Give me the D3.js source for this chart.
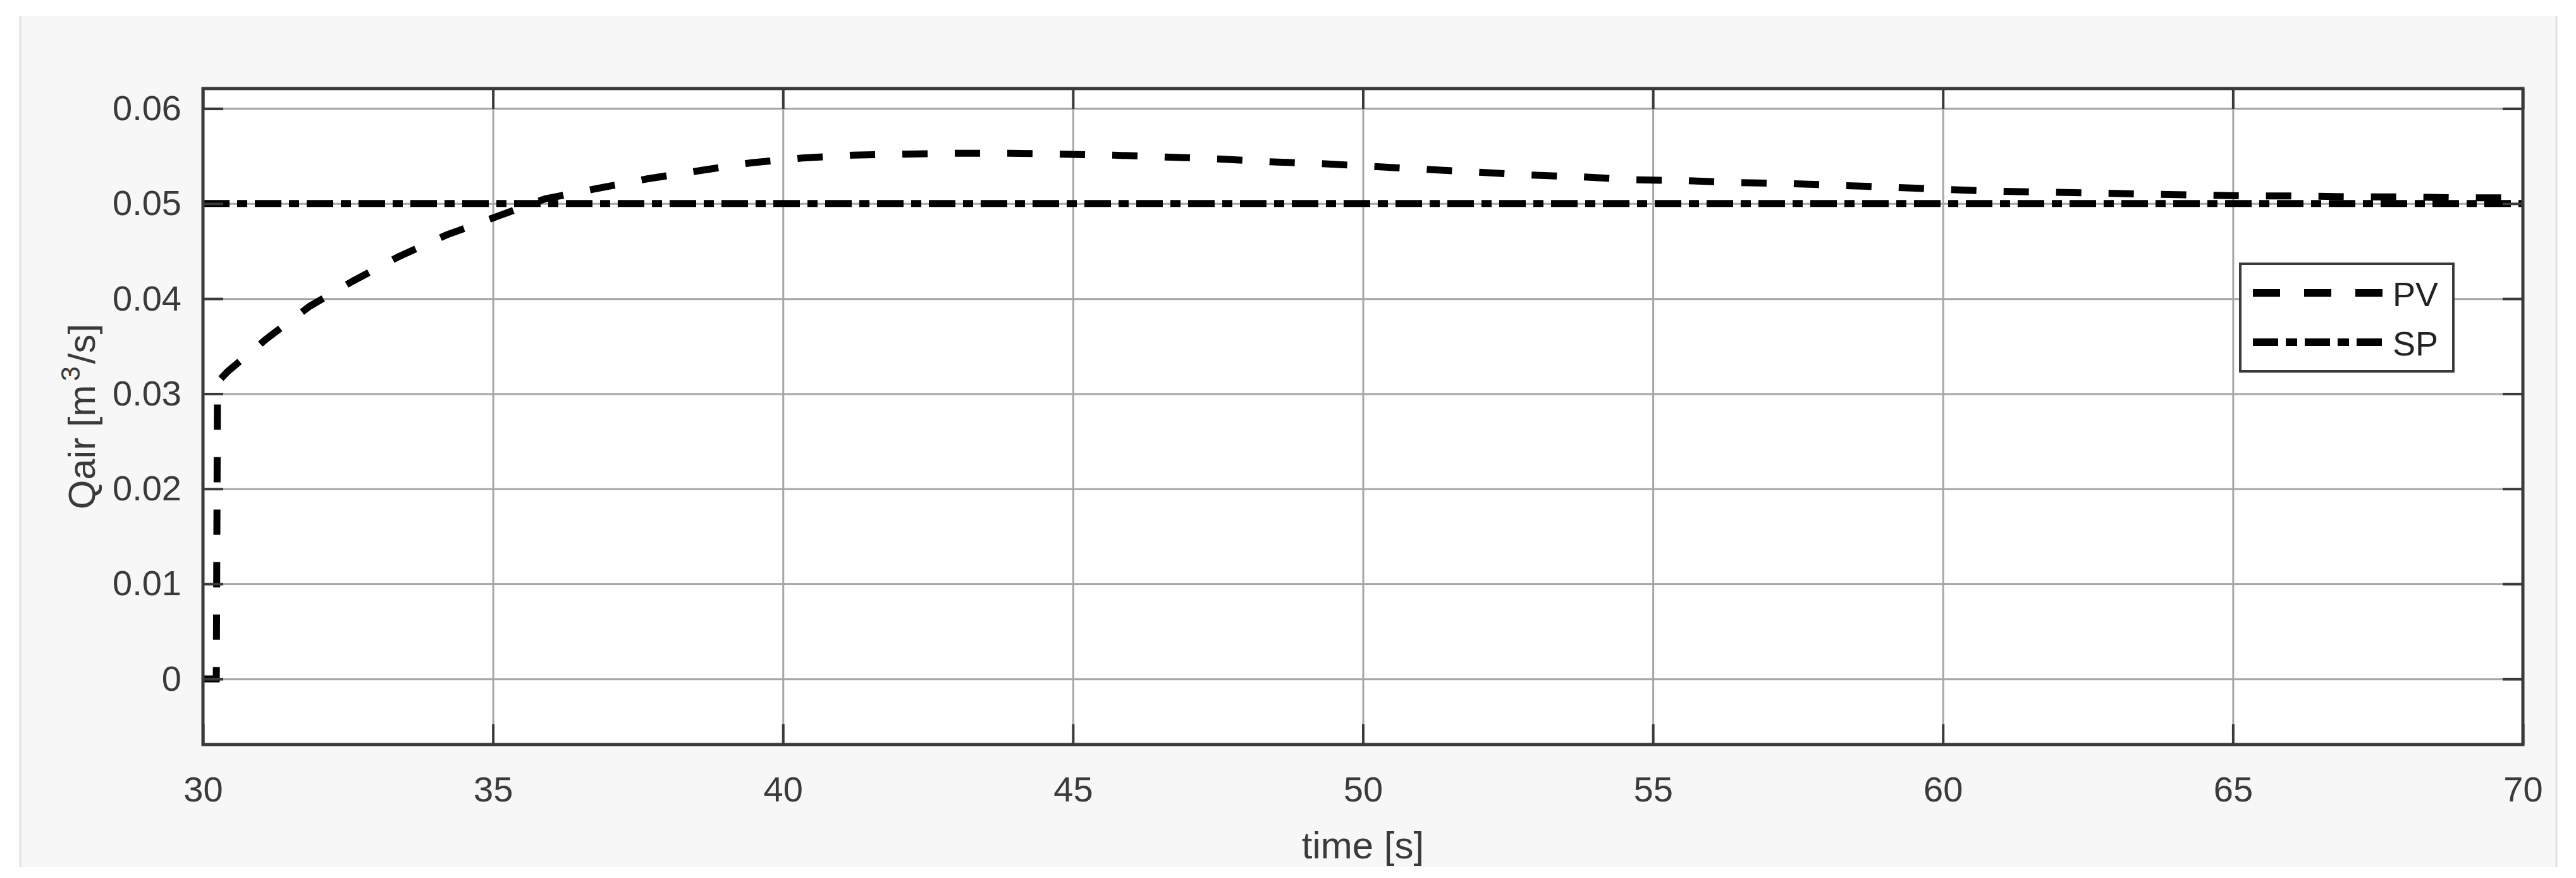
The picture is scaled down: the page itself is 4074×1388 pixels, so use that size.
<!DOCTYPE html>
<html>
<head>
<meta charset="utf-8">
<script src="https://cdn.jsdelivr.net/npm/d3@7"></script>
<style>
  body { margin: 0; background: #fff; }
  svg text { font-family: "Liberation Sans", Arial, sans-serif; }
</style>
</head>
<body>
<svg id="chart"></svg>
<script>
// PV response (time in s, flow in m3/s)
const pvTime = [30, 30.23, 30.25, 30.42, 31.1, 31.84, 32.6, 33.37, 34.2, 35.05, 35.9, 36.8, 37.66, 38.6, 39.46,
    40.34, 41.2, 42.1, 43.0, 43.9, 44.8, 45.7, 46.6, 47.5, 48.4, 49.3, 50.2, 51.1, 52.0, 52.9, 53.8, 54.7,
    55.6, 56.5, 57.4, 58.3, 59.2, 60.0, 60.9, 61.8, 62.7, 63.5, 64.4, 65.3, 66.2, 67.1, 68.0, 68.9, 70];
const pvFlow = [0, 0, 0.0312, 0.0323, 0.0358, 0.0392, 0.0419, 0.0444, 0.0467, 0.0486, 0.0505, 0.0516, 0.0526, 0.0535, 0.0543,
    0.0548, 0.0551, 0.0552, 0.0553, 0.0553, 0.0552, 0.0551, 0.0549, 0.0547, 0.0544, 0.0542, 0.0539, 0.0536, 0.0533, 0.0530, 0.0528, 0.0525,
    0.0524, 0.0522, 0.0521, 0.0519, 0.0517, 0.0515, 0.0513, 0.0512, 0.0511, 0.0510, 0.0509, 0.0508, 0.0508, 0.0507, 0.0507, 0.0506, 0.0506];

// set point
const spTime = [30, 70];
const spFlow = [0.05, 0.05];

const seriesNames = ['PV', 'SP'];
const xTicks = [30, 35, 40, 45, 50, 55, 60, 65, 70];
const yTicks = [0, 0.01, 0.02, 0.03, 0.04, 0.05, 0.06];
const yTickLabels = ['0', '0.01', '0.02', '0.03', '0.04', '0.05', '0.06'];

const width = 4074;
const height = 1388;
const plot = { left: 321, right: 3990, top: 140, bottom: 1177 };
const tickLen = 32;
const fontSize = 56;
const labelSize = 60;

const svg = d3.select('#chart')
    .attr('width', width)
    .attr('height', height);

/* figure background */
svg.append('rect')
    .attr('x', 31).attr('y', 25)
    .attr('width', 4013).attr('height', 1346)
    .attr('fill', '#f7f7f7');
svg.append('line')
    .attr('x1', 32).attr('x2', 32).attr('y1', 25).attr('y2', 1371)
    .attr('stroke', '#e2e2e2').attr('stroke-width', 3);
svg.append('line')
    .attr('x1', 4043).attr('x2', 4043).attr('y1', 25).attr('y2', 1371)
    .attr('stroke', '#e2e2e2').attr('stroke-width', 3);

/* scales */
const xScale = d3.scaleLinear()
    .domain([30, 70])
    .range([plot.left, plot.right]);
const yScale = d3.scaleLinear()
    .domain([-0.0069, 0.0621])
    .range([plot.bottom, plot.top]);

/* plot area */
svg.append('rect')
    .attr('x', plot.left).attr('y', plot.top)
    .attr('width', plot.right - plot.left)
    .attr('height', plot.bottom - plot.top)
    .attr('fill', '#fff');

/* grid */
const grid = svg.append('g').attr('class', 'grid');
grid.append('g')
    .attr('transform', `translate(0, ${plot.bottom})`)
    .call(d3.axisBottom(xScale).tickValues(xTicks).tickSize(-(plot.bottom - plot.top)).tickFormat(''));
grid.append('g')
    .attr('transform', `translate(${plot.left}, 0)`)
    .call(d3.axisLeft(yScale).tickValues(yTicks).tickSize(-(plot.right - plot.left)).tickFormat(''));
grid.selectAll('.domain').remove();
grid.selectAll('line')
    .attr('stroke', '#a6a6a6')
    .attr('stroke-width', 3);

/* lines */
svg.append('clipPath').attr('id', 'clip')
    .append('rect')
    .attr('x', plot.left).attr('y', plot.top)
    .attr('width', plot.right - plot.left)
    .attr('height', plot.bottom - plot.top);

const line = d3.line()
    .x(d => xScale(d[0]))
    .y(d => yScale(d[1]));

const lines = svg.append('g').attr('clip-path', 'url(#clip)');
lines.append('path')
    .datum(d3.zip(spTime, spFlow))
    .attr('d', line)
    .attr('fill', 'none')
    .attr('stroke', '#000')
    .attr('stroke-width', 11)
    .attr('stroke-dasharray', '42,12,16,12');
lines.append('path')
    .datum(d3.zip(pvTime, pvFlow))
    .attr('d', line)
    .attr('fill', 'none')
    .attr('stroke', '#000')
    .attr('stroke-width', 11)
    .attr('stroke-dasharray', '40,43');

/* axes with inner ticks */
const axisColor = '#3a3a3a';
const xAxis = svg.append('g')
    .attr('transform', `translate(0, ${plot.bottom})`)
    .call(d3.axisBottom(xScale).tickValues(xTicks).tickSize(-tickLen).tickPadding(50).tickFormat(d3.format('d')));
const xAxisTop = svg.append('g')
    .attr('transform', `translate(0, ${plot.top})`)
    .call(d3.axisTop(xScale).tickValues(xTicks).tickSize(-tickLen).tickFormat(''));
const yAxis = svg.append('g')
    .attr('transform', `translate(${plot.left}, 0)`)
    .call(d3.axisLeft(yScale).tickValues(yTicks).tickSize(-tickLen).tickPadding(34)
        .tickFormat((d, i) => yTickLabels[i]));
const yAxisRight = svg.append('g')
    .attr('transform', `translate(${plot.right}, 0)`)
    .call(d3.axisRight(yScale).tickValues(yTicks).tickSize(-tickLen).tickFormat(''));

[xAxis, xAxisTop, yAxis, yAxisRight].forEach(g => {
    g.select('.domain').remove();
    g.selectAll('line').attr('stroke', axisColor).attr('stroke-width', 4);
    g.selectAll('text')
        .attr('fill', '#3a3a3a')
        .style('font-size', fontSize + 'px');
});

/* box */
svg.append('rect')
    .attr('x', plot.left).attr('y', plot.top)
    .attr('width', plot.right - plot.left)
    .attr('height', plot.bottom - plot.top)
    .attr('fill', 'none')
    .attr('stroke', axisColor)
    .attr('stroke-width', 5);

/* axis labels */
svg.append('text')
    .attr('x', (plot.left + plot.right) / 2)
    .attr('y', 1357)
    .attr('text-anchor', 'middle')
    .attr('fill', '#3a3a3a')
    .style('font-size', labelSize + 'px')
    .text('time [s]');

const yLabel = svg.append('text')
    .attr('transform', `translate(150, ${(plot.top + plot.bottom) / 2}) rotate(-90)`)
    .attr('text-anchor', 'middle')
    .attr('fill', '#3a3a3a')
    .style('font-size', labelSize + 'px');
yLabel.append('tspan').text('Qair [m');
yLabel.append('tspan').attr('dx', 6).attr('dy', -24).style('font-size', '42px').text('3');
yLabel.append('tspan').attr('dx', 4).attr('dy', 24).text('/s]');

/* legend */
const legend = svg.append('g').attr('class', 'legend');
legend.append('rect')
    .attr('x', 3543).attr('y', 417)
    .attr('width', 337).attr('height', 170)
    .attr('fill', '#fff')
    .attr('stroke', axisColor)
    .attr('stroke-width', 4);
const legendDash = ['43,38', '40,12,18,12'];
const legendY = [463, 541];
seriesNames.forEach((name, i) => {
    legend.append('line')
        .attr('x1', 3563).attr('x2', 3768)
        .attr('y1', legendY[i]).attr('y2', legendY[i])
        .attr('stroke', '#000')
        .attr('stroke-width', 12)
        .attr('stroke-dasharray', legendDash[i]);
    legend.append('text')
        .attr('x', 3784)
        .attr('y', legendY[i] + 21)
        .attr('fill', '#222')
        .style('font-size', '54px')
        .text(name);
});
</script>
</body>
</html>
